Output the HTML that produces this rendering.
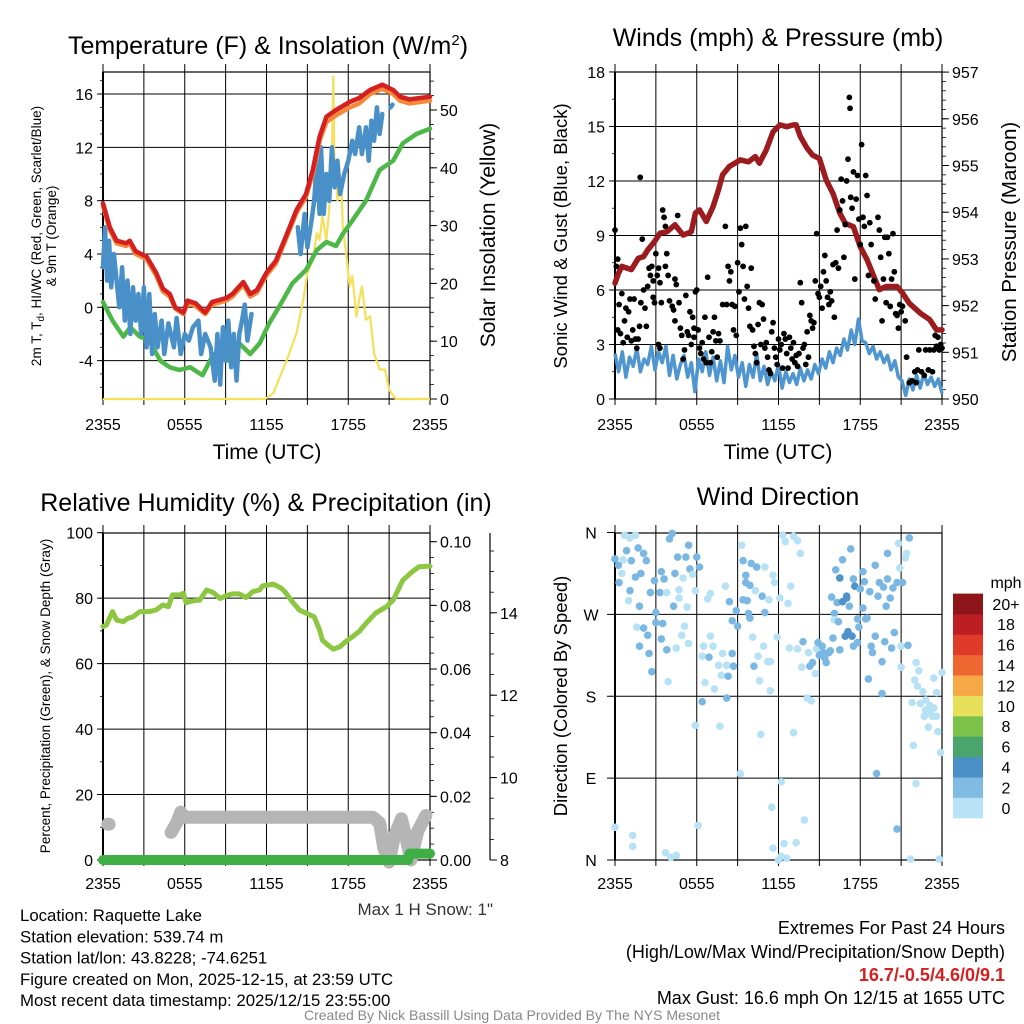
<!DOCTYPE html>
<html><head><meta charset="utf-8"><style>
html,body{margin:0;padding:0;background:#fff;}
svg{display:block;font-family:"Liberation Sans",sans-serif;}
</style></head><body>
<svg id="c" width="1024" height="1024" viewBox="0 0 1024 1024" xmlns="http://www.w3.org/2000/svg">
<g id="layer"></g>
</svg>
<script>
// ---------- DATA ----------
const timeTickLabels = ["2355","0555","1155","1755","2355"];
const tempTicks = [-4,0,4,8,12,16];
const insolTicks = [0,10,20,30,40,50];
const windTicks = [0,3,6,9,12,15,18];
const presTicks = [950,951,952,953,954,955,956,957];
const rhTicks = [0,20,40,60,80,100];
const precipTicks = [0,0.02,0.04,0.06,0.08,0.10];
const snowTicks = [8,10,12,14];
const dirTickLabels = ["N","E","S","W","N"];
const dirTicks = [0,90,180,270,360];
const cbLabels = ["0","2","4","6","8","10","12","14","16","18","20+"];
const cbColors = ["#b8e3f7","#80bbe3","#4a8fc6","#4aa56c","#7cc24a","#e6e05a","#f5a845","#ee6630","#de3b2b","#bd1e24","#8e1519"];

const redT = [0,0.5,1,1.7,1.96,2.4,3.2,3.9,4.4,4.9,5.3,5.9,6.2,6.8,7.5,8,9.05,9.5,10.3,10.8,11.3,12,12.7,13.5,14.2,14.9,15.4,15.9,16.4,17.1,18.1,18.8,19.6,20.5,21.3,21.8,22.5,24];
const redV = [7.8,6.0,5.0,4.8,5.0,4.2,3.8,2.6,1.4,1.0,0,-0.4,0.5,0.3,-0.4,0.4,0.7,1.0,1.9,1.0,1.3,2.6,3.5,5.5,7.3,8.5,10.3,12.8,14.3,14.8,15.4,15.7,16.3,16.7,16.3,15.8,15.6,15.8];
const orangeV = [7.6,5.8,4.8,4.6,4.8,4.0,3.6,2.4,1.2,0.8,-0.1,-0.5,0.3,0.1,-0.5,0.2,0.5,0.8,1.7,0.8,1.1,2.4,3.3,5.3,7.1,8.3,10.0,12.5,13.9,14.4,15.0,15.3,16.0,16.4,16.0,15.5,15.3,15.5];
const greenT = [0,0.7,1.5,2,2.7,3.4,4.2,4.9,5.6,6.4,7.3,8.1,9.1,10,10.8,11.5,12.2,12.9,13.9,14.9,15.7,16.4,17.1,17.6,18.3,19.3,20.3,21.3,22,23,24];
const greenV = [0.4,-1.0,-2.2,-1.5,-2.2,-2.5,-4.0,-4.5,-4.7,-4.5,-5.1,-3.5,-4.0,-2.7,-3.5,-2.7,-1.2,0,1.8,2.8,4.3,4.9,4.6,5.5,6.5,8.0,10.3,11.0,12.3,13.0,13.4];
const blueT = [0,0.15,0.3,0.45,0.6,0.8,1,1.2,1.4,1.6,1.8,2,2.2,2.4,2.6,2.8,3,3.2,3.4,3.6,3.8,4,4.3,4.5,4.8,5.2,5.4,5.7,6,6.3,6.6,7,7.2,7.5,7.9,8.2,8.4,8.6,8.8,9,9.2,9.4,9.6,9.8,10,10.2,10.4,10.6,10.9,null,14.3,14.5,14.8,15,15.3,15.5,15.7,15.9,16,16.2,16.4,16.6,16.8,17,17.2,17.4,17.7,18,18.3,18.5,18.8,19,19.3,19.5,19.7,19.9,20.1,20.3,20.5,null,21.1,21.25];
const blueV = [3,6,2,5,1.5,4,2,0,3,-1,2,-2,1.5,-1,1,-2,1.5,-3,1,-3.5,-0.5,-3,-1,-3.5,-1.2,-3,-0.8,-3.5,-2,-2.5,-1.5,-1,-3.5,-2,-3,-5.5,-2,-5.8,-1.5,-4,-1,-4.5,-2,-5.5,-2,-1,0.2,-2.5,-0.5,null,6,4,7,4.5,6.5,8,11,7,12,7,10,8,12,9,11,8.5,10,11,12.5,11.5,13.5,11.5,13.5,11,14,12.5,15,13,14.5,null,15,15.2];
const insolT = [0,11.9,12.5,13.5,14.2,14.7,15,15.4,15.7,15.9,16.1,16.4,16.6,16.8,16.9,17,17.1,17.2,17.5,17.6,17.9,18.1,18.3,18.6,18.8,19,19.3,19.6,19.9,20.3,20.7,21,21.5,24];
const insolV = [0,0,1,6.8,11.4,17.2,21.8,24,28.7,27.5,31.6,27.5,32.7,41.4,55.8,38.5,41.4,34.4,36.8,29.8,24,19.5,21.3,14.3,17.2,19.5,13.7,14.3,7.9,5.1,5.1,1.6,0,0];

const presT = [0,0.25,0.5,1.2,1.7,2.1,2.4,2.9,3.3,3.8,4.4,5,5.6,5.9,6.2,6.7,7.2,7.6,7.9,8.4,9.2,9.8,10.3,10.6,11.1,11.6,12.1,12.6,13.1,13.3,13.6,14.1,14.5,15,15.5,16,16.5,16.9,17.5,18,18.5,19,19.4,19.9,20.7,21.1,21.6,22.4,23.1,23.6,24];
const presV = [952.48,952.69,952.84,952.77,953.01,953.05,953.19,953.37,953.55,953.58,953.73,953.51,953.58,953.98,954.05,953.80,954.12,954.48,954.80,954.98,955.12,955.08,955.19,955.05,955.33,955.72,955.87,955.83,955.87,955.87,955.62,955.37,955.22,955.15,954.69,954.40,953.98,953.76,953.69,953.26,952.98,952.62,952.34,952.41,952.41,952.27,952.05,951.84,951.70,951.48,951.48];
const windV = [2.5,1.5,2.6,1.2,2.3,1.8,2.8,1.5,2.2,1.9,2.9,1.6,2.6,2.0,2.9,1.3,2.4,1.1,1.9,2.4,1.2,2.0,0.4,2.2,1.5,2.6,1.3,2.3,1.0,2.1,0.9,2.9,1.6,2.4,1.2,2.0,0.7,1.9,1.2,2.5,1.0,1.8,0.8,1.5,1.0,1.9,0.6,1.5,0.9,1.4,0.8,1.7,1.0,1.6,1.1,1.9,1.4,2.2,1.7,2.6,2.0,2.8,2.4,3.3,2.7,3.8,3.0,4.4,3.2,3.1,2.5,2.9,2.2,2.6,2.0,2.4,1.6,2.1,1.2,1.0,0.2,1.1,0.5,1.3,0.6,1.4,0.8,1.2,0.7,1.1,0.3];
const gustT = [0,0.1,0.2,0.3,0.2,0.4,0.5,0.6,0.7,0.8,0.9,1,1.1,1.2,1.3,1.4,1.5,1.6,1.7,1.8,1.9,1.85,2,2.1,2.2,2.3,2.4,2.5,2.6,2.7,2.8,2.8,2.9,3,3.1,3.2,3.3,3.4,3.2,3.3,3.5,3.6,3.7,3.7,3.8,3.9,4,4.2,4.3,4.4,4.4,4.5,4.6,4.7,4.8,4.9,5,5.1,5.2,5.3,5.4,5.5,5.6,5.7,5.8,5.8,5.9,6,6.1,6.2,6.3,6.4,6.5,6.6,6.7,6.8,6.9,7,7.1,7.2,7.3,7.4,7.5,7.6,7.7,7.9,8.1,8.2,8.3,8.4,8.5,8.6,8.7,8.8,8.9,9,9.1,9.2,9.3,9.4,9.5,9.6,9.7,9.8,9.9,10,10.1,10.2,10.3,10.4,10.5,10.6,10.7,10.8,10.9,11,11.1,11.2,11.3,11.4,11.5,11.6,11.7,11.8,11.9,12,12.1,12.2,12.3,12.4,12.5,12.6,12.7,12.8,12.9,13,13.1,13.2,13.3,13.4,13.5,13.6,13.7,13.8,13.9,14,14.1,14.2,14.3,14.4,14.5,14.6,14.7,14.8,14.9,15,15.1,15.2,15.3,15.4,15.5,15.6,15.7,15.8,15.9,16,16.1,16.2,16.3,16.4,16.5,16.6,16.7,16.8,16.9,17,17.1,17.2,17.25,17.3,17.4,17.5,17.6,17.7,17.8,17.9,18,18.1,18.2,18.3,18.4,18.5,18.6,18.7,18.8,19,19.1,19.3,19.4,19.5,19.6,19.7,19.8,19.9,20,20.1,20.2,20.3,20.4,20.5,20.6,20.7,20.8,20.9,21,21.1,21.3,21.4,21.6,21.8,22,22.1,22.2,22.3,22.5,22.7,22.8,23,23.1,23.3,23.4,23.5,23.6,23.7,23.8,23.9,24];
const gustV = [9.3,7.3,7.7,5.2,3.8,3.6,5.8,3.1,4.3,5.0,3.4,4.8,5.5,3.2,3.8,5.5,3.3,2.8,3.3,4.0,5.3,12.2,8.8,6.0,5.0,4.0,6.2,7.2,6.8,7.3,6.5,5.6,5.3,8.0,6.8,7.2,6.4,5.3,3.0,2.8,10.4,10.0,9.5,7.3,8.0,6.8,5.4,5.1,4.9,6.6,4.3,6.3,10.1,5.3,3.9,3.5,2.2,2.7,5.7,3.7,3.5,4.8,3.0,4.5,3.4,3.9,5.9,6.0,3.8,2.8,2.5,3.1,2.2,4.5,2.0,6.7,3.4,2.0,2.6,3.7,4.5,3.2,2.3,3.6,3.2,5.2,9.5,5.2,7.3,6.5,7.0,5.2,3.8,5.1,3.5,7.5,5.9,9.4,8.5,7.3,5.5,9.5,6.2,5.0,4.0,7.2,3.8,2.9,2.5,2.0,4.1,5.3,3.0,5.2,4.4,2.8,3.1,2.3,1.6,1.4,3.7,4.2,2.8,2.3,1.9,3.3,2.7,3.0,1.7,3.6,3.3,2.5,1.7,3.4,2.8,2.2,3.1,2.0,2.4,1.8,2.5,6.4,5.3,2.8,3.0,1.9,3.7,2.3,4.6,4.3,3.9,4.2,6.5,9.1,5.8,5.6,6.2,5.0,7.0,7.9,6.5,5.6,5.2,5.9,5.4,7.4,4.5,7.5,9.3,7.2,10.4,12.1,10.9,7.8,9.6,12.0,13.2,16.6,16.0,11.1,10.5,12.5,6.6,11.0,12.3,9.9,8.5,14.0,10.0,9.5,12.3,11.2,6.8,9.7,8.5,6.5,5.5,10.0,9.3,7.8,4.3,6.6,8.9,5.3,8.9,8.0,5.1,6.6,9.1,7.0,4.7,4.6,3.9,5.2,4.8,5.1,4.3,2.3,0.9,1.0,1.5,0.9,1.6,2.7,1.5,1.3,2.7,1.6,2.7,1.5,2.7,3.5,2.9,3.4,2.7,3.0,2.8];

const rhT = [0,0.25,0.7,1,1.5,1.8,2.2,2.7,3.4,3.9,4.4,4.8,5.1,5.6,5.9,6.1,6.6,7.1,7.6,8.1,8.6,9,9.5,10,10.5,11,11.5,11.7,12.5,13.1,13.4,13.9,14.4,14.9,15.5,15.9,16.1,16.5,16.9,17.4,17.8,18.3,18.8,19.3,20,20.8,21.3,22,22.7,23.2,24];
const rhV = [71.3,71.8,75.9,73.3,72.8,73.8,74.3,75.9,75.9,76.4,77.9,77.4,81.0,81.0,81.5,78.6,79.2,79.4,82.5,81.7,79.9,80.7,81.3,81.3,80.2,82.0,82.5,83.7,84.3,83.0,81.7,78.9,76.4,75.4,74.3,70.3,67.2,65.7,64.4,65.2,66.7,68.2,69.8,72.3,75.4,77.4,79.4,85.5,88.1,89.6,89.8];
const precipT = [0,22.4,22.5,24];
const precipV = [0,0,0.002,0.002];
const snowT1 = [0.35,0.45];
const snowV1 = [8.87,8.87];
const snowT2 = [5.0,5.4,5.7,6.0,8,12,16,19.8,20.3,20.6,21.0,21.4,21.9,22.2,22.6,23.1,23.7];
const snowV2 = [8.67,8.9,9.16,9.04,9.04,9.04,9.04,9.04,8.9,8.3,7.95,8.6,9.0,8.6,8.0,8.7,9.08];

const dirT = [0,0.25,0.3,0.5,0.6,0.7,0.85,1.1,1.2,1.0,1.1,1.5,1.5,1.7,1.9,1.8,2.1,2.3,1.6,2.1,2.4,2.5,1.8,2.7,2.6,2.9,3.0,3.0,3.3,3.4,3.6,3.4,3.5,3.8,3.9,3.8,4.0,4.2,4.3,4.4,4.6,4.7,4.7,5.0,4.9,4.5,5.1,5.2,5.3,5.4,5.5,5.4,5.7,5.9,6.0,6.2,5.9,6.1,6.4,6.4,6.5,6.6,6.8,7.0,6.9,7.0,7.2,7.3,7.6,7.7,7.8,7.9,8.1,8.2,8.3,8.4,8.6,8.6,8.7,8.2,8.9,9.0,9.2,9.3,9.4,9.4,9.6,9.6,9.7,9.8,9.9,9.9,10.0,10.1,10.2,10.3,10.4,10.5,10.6,10.7,10.8,10.9,11.0,11.0,11.2,11.3,11.4,11.4,11.5,11.6,11.6,11.7,11.9,12.0,12.1,12.2,12.2,12.3,12.4,12.5,12.6,12.7,12.8,12.9,13.1,13.1,13.3,13.4,13.4,13.6,13.7,13.8,13.9,14.1,14.2,14.3,14.4,14.5,14.7,14.8,14.9,15.0,15.2,15.3,15.4,15.5,15.7,15.8,15.9,16.0,16.1,16.1,16.2,16.3,16.4,16.5,16.5,16.7,16.7,16.9,17.0,17.0,17.1,17.2,17.3,17.4,17.5,17.5,17.6,17.8,17.8,17.9,18.0,18.2,18.2,18.3,18.4,18.5,18.6,18.7,18.8,18.9,19.1,19.1,19.2,19.3,19.4,19.6,19.6,19.7,19.8,19.9,20.0,20.0,20.2,20.3,20.4,20.5,20.7,20.7,20.8,20.9,21.0,21.0,21.1,21.3,21.4,21.5,21.6,21.7,21.8,21.9,22.0,22.1,22.1,22.2,22.3,22.4,22.6,22.7,22.8,23.0,23.1,23.1,23.3,23.4,23.4,23.6,23.6,23.7,23.9,24.0,23.8,22.8,0,1.3,1.3,3.7,4.1,4.5];
const dirV = [331,324,305,315,330,357,340,354,329,285,296,311,357,343,315,279,337,329,256,255,247,227,235,207,294,307,272,261,294,317,309,243,260,231,196,294,353,359,279,315,333,297,288,310,247,233,257,333,278,346,320,238,314,296,333,322,148,38,174,224,235,195,287,293,223,246,235,188,214,147,203,227,301,214,202,284,263,227,213,178,274,257,95,346,329,286,313,305,285,271,302,266,326,245,213,296,322,224,197,138,290,235,322,272,218,286,186,218,58,13,313,305,245,0,288,86,4,357,18,350,2,282,233,301,356,140,19,351,232,337,212,240,44,178,228,213,175,217,205,232,239,225,235,228,222,217,228,230,289,244,271,264,319,283,262,231,310,330,284,246,288,290,251,279,342,246,235,309,301,239,265,256,298,317,277,306,265,266,199,295,235,228,246,324,95,290,305,218,183,300,240,279,337,309,288,233,299,250,305,34,348,321,212,235,305,332,337,236,354,1,173,126,198,84,217,191,208,172,185,158,165,146,170,162,158,200,167,184,158,141,118,206,1,176,36,27,15,8,3,5];
const dirS = [3,3,3,1,1,1,3,1,3,1,3,3,1,3,3,3,3,3,1,3,3,3,3,3,3,3,3,3,3,3,3,3,3,3,1,1,3,3,3,3,3,1,1,1,1,1,1,3,1,3,3,1,1,1,3,3,1,1,3,1,1,1,1,1,3,1,1,1,1,1,1,1,1,1,3,3,3,3,3,3,3,3,1,1,3,3,3,3,3,3,3,3,3,1,3,1,3,1,1,1,3,1,1,3,1,1,1,1,1,1,1,1,1,1,1,1,1,1,1,1,1,1,1,1,1,1,1,1,1,1,1,3,1,1,1,3,1,3,1,1,3,3,3,3,3,3,3,3,3,3,3,1,3,3,3,3,5,3,5,5,5,5,5,3,3,5,3,3,5,3,3,3,3,3,3,3,3,3,3,3,3,3,3,3,3,3,3,3,3,3,3,3,3,3,3,3,3,3,3,3,1,1,1,1,3,1,1,3,3,1,1,1,1,1,1,1,1,1,1,1,1,1,1,1,1,1,1,1,1,1,1,1,1,1,1,1,1,1,1,1,3,1,3,3,1];

// ---------- HELPERS ----------
const NS = "http://www.w3.org/2000/svg";
const root = document.getElementById("layer");
const TICK = 16;
function mk(tag, attrs, parent) {
  const e = document.createElementNS(NS, tag);
  for (const k in attrs) e.setAttribute(k, attrs[k]);
  (parent || root).appendChild(e);
  return e;
}
function txt(s, x, y, size, anchor, parent, extra) {
  const e = mk("text", Object.assign({x: x, y: y, "font-size": size, "text-anchor": anchor || "middle", fill: "#000"}, extra || {}), parent);
  e.textContent = s;
  return e;
}
function pathFrom(xs, ys, sx, sy) {
  let d = "", pen = false;
  for (let i = 0; i < xs.length; i++) {
    if (xs[i] === null || ys[i] === null) { pen = false; continue; }
    d += (pen ? "L" : "M") + sx(xs[i]).toFixed(1) + "," + sy(ys[i]).toFixed(1);
    pen = true;
  }
  return d;
}

const X1 = t => 103 + t * 13.625;
const X2 = t => 615 + t * 13.625;
const Y1 = v => 307.3 - v * 13.33;
const Yi = w => 399 - w * 5.78;
const Y2 = v => 399 - v * 18.17;
const Yp = p => 399 - (p - 950) * 46.7;
const Y3 = v => 860 - v * 3.273;
const Ypr = p => 860 - p * 3183;
const Ysn = s => 860 - (s - 8) * 41.2;
const Yd = d => 860 - d * 0.9097;

function frame(g, x0, x1, y0, y1, hGrid, xfn) {
  for (let h = 0; h <= 24; h += 3) {
    const x = xfn(h);
    mk("line", {x1: x, x2: x, y1: y0 - 8, y2: y1 + 6, stroke: "#000", "stroke-width": 1}, g);
  }
  hGrid.forEach(y => mk("line", {x1: x0, x2: x1, y1: y, y2: y, stroke: "#000", "stroke-width": 1}, g));
  mk("rect", {x: x0, y: y0, width: x1 - x0, height: y1 - y0, fill: "none", stroke: "#000", "stroke-width": 1.2}, g);
  mk("line", {x1: x0, x2: x0, y1: y0, y2: y1, stroke: "#000", "stroke-width": 2}, g);
}
function xLabels(g, xfn, y) {
  timeTickLabels.forEach((s, i) => txt(s, xfn(i * 6), y, TICK, "middle", g));
}
function leftTicks(g, x, ticks, yfn, fmt, minorStep, range) {
  ticks.forEach(v => {
    mk("line", {x1: x - 6, x2: x, y1: yfn(v), y2: yfn(v), stroke: "#000"}, g);
    txt(fmt(v), x - 10, yfn(v) + 6, TICK, "end", g);
  });
  for (let v = range[0]; v <= range[1] + 1e-9; v += minorStep)
    mk("line", {x1: x - 3, x2: x, y1: yfn(v), y2: yfn(v), stroke: "#000", "stroke-width": 0.8}, g);
}
function rightTicks(g, x, ticks, yfn, fmt, minorStep, range) {
  ticks.forEach(v => {
    mk("line", {x1: x, x2: x + 7, y1: yfn(v), y2: yfn(v), stroke: "#000"}, g);
    txt(fmt(v), x + 10, yfn(v) + 6, TICK, "start", g);
  });
  for (let v = range[0]; v <= range[1] + 1e-9; v += minorStep)
    mk("line", {x1: x, x2: x + 4, y1: yfn(v), y2: yfn(v), stroke: "#000", "stroke-width": 0.8}, g);
}

// ---------- PANEL 1 ----------
const p1 = mk("g", {});


frame(p1, 103, 430, 72, 399, tempTicks.map(Y1), X1);
leftTicks(p1, 103, tempTicks, Y1, v => String(v), 1, [-6, 17]);
rightTicks(p1, 430, insolTicks, Yi, v => String(v), 2.5, [0, 55]);
xLabels(p1, X1, 430);
const cl1 = mk("clipPath", {id: "cp1"}, p1); mk("rect", {x: 100, y: 72, width: 334, height: 330}, cl1);
const s1 = mk("g", {"clip-path": "url(#cp1)"}, p1);
const insolLine = mk("path", {d: pathFrom(insolT, insolV, X1, Yi), fill: "none", stroke: "#f6e05a", "stroke-width": 2.2, "stroke-linejoin": "round"}, s1);


const greenLine = mk("path", {d: pathFrom(greenT, greenV, X1, Y1), fill: "none", stroke: "#4db848", "stroke-width": 4.5, "stroke-linejoin": "round", "stroke-linecap": "round"}, s1);


const blueLine = mk("path", {d: pathFrom(blueT, blueV, X1, Y1), fill: "none", stroke: "#4a90c8", "stroke-width": 4.5, "stroke-linejoin": "round", "stroke-linecap": "round"}, s1);


const orangeLine = mk("path", {d: pathFrom(redT, orangeV, X1, Y1), fill: "none", stroke: "#f4893a", "stroke-width": 4.5, "stroke-linejoin": "round", "stroke-linecap": "round"}, s1);


const redLine = mk("path", {d: pathFrom(redT, redV, X1, Y1), fill: "none", stroke: "#d42020", "stroke-width": 4.5, "stroke-linejoin": "round", "stroke-linecap": "round"}, s1);


const t1 = mk("text", {x: 268, y: 54, "font-size": 25, "text-anchor": "middle"}, p1);
t1.innerHTML = 'Temperature (F) &amp; Insolation (W/m<tspan dy="-9" font-size="15">2</tspan><tspan dy="9">)</tspan>';


const yl1 = mk("text", {x: 0, y: 0, "font-size": 13.5, "text-anchor": "middle", transform: "translate(41,236) rotate(-90)"}, p1);
yl1.innerHTML = '2m T, T<tspan dy="3" font-size="10">d</tspan><tspan dy="-3">, HI/WC (Red, Green, Scarlet/Blue)</tspan>';


const yl1b = txt("& 9m T (Orange)", 0, 0, 13.5, "middle", p1, {transform: "translate(56,236) rotate(-90)"});


const yr1 = txt("Solar Insolation (Yellow)", 0, 0, 21, "middle", p1, {transform: "translate(495,235) rotate(-90)"});


const xl1 = txt("Time (UTC)", 267, 459, 21, "middle", p1);



// ---------- PANEL 2 ----------
const p2 = mk("g", {});


frame(p2, 615, 942, 72, 399, windTicks.slice(1, 6).map(Y2), X2);
leftTicks(p2, 615, windTicks, Y2, v => String(v), 1.5, [0, 18]);
rightTicks(p2, 942, presTicks, Yp, v => String(v), 0.2, [950, 957]);
xLabels(p2, X2, 430);
const cl2 = mk("clipPath", {id: "cp2"}, p2); mk("rect", {x: 612, y: 68, width: 335, height: 334}, cl2);
const s2 = mk("g", {"clip-path": "url(#cp2)"}, p2);
const windT = windV.map((v, i) => i * 24 / (windV.length - 1));
const windLine = mk("path", {d: pathFrom(windT, windV, X2, Y2), fill: "none", stroke: "#4f95cf", "stroke-width": 3.5, "stroke-linejoin": "round"}, s2);


const presLine = mk("path", {d: pathFrom(presT, presV, X2, Yp), fill: "none", stroke: "#9b1b1e", "stroke-width": 5.5, "stroke-linejoin": "round", "stroke-linecap": "round"}, s2);


gustT.forEach((t, i) => {
  const c = mk("circle", {cx: X2(t), cy: Y2(gustV[i]), r: 2.9, fill: "#000"}, s2);
  
  
});
const t2 = txt("Winds (mph) & Pressure (mb)", 778, 46, 25, "middle", p2);


const yl2 = txt("Sonic Wind & Gust (Blue, Black)", 0, 0, 18.5, "middle", p2, {transform: "translate(567,236) rotate(-90)"});


const yr2 = txt("Station Pressure (Maroon)", 0, 0, 20.5, "middle", p2, {transform: "translate(1016,242) rotate(-90)"});


const xl2 = txt("Time (UTC)", 778, 459, 21, "middle", p2);



// ---------- PANEL 3 ----------
const p3 = mk("g", {});


frame(p3, 103, 430, 533, 860, rhTicks.slice(1, 5).map(Y3), X1);
leftTicks(p3, 103, rhTicks, Y3, v => String(v), 10, [0, 100]);
rightTicks(p3, 430, precipTicks, Ypr, v => v.toFixed(2), 0.005, [0, 0.1]);
mk("line", {x1: 490, x2: 490, y1: 533, y2: 860, stroke: "#000", "stroke-width": 1.2}, p3);
rightTicks(p3, 490, snowTicks, Ysn, v => String(v), 0.5, [8, 15.5]);
xLabels(p3, X1, 889);
const cl3 = mk("clipPath", {id: "cp3"}, p3); mk("rect", {x: 95, y: 530, width: 345, height: 340}, cl3);
const s3 = mk("g", {"clip-path": "url(#cp3)"}, p3);
const snow1 = mk("path", {d: pathFrom(snowT1, snowV1, X1, Ysn), fill: "none", stroke: "#b5b5b5", "stroke-width": 13, "stroke-linecap": "round"}, s3);


const snow2 = mk("path", {d: pathFrom(snowT2, snowV2, X1, Ysn), fill: "none", stroke: "#b5b5b5", "stroke-width": 13, "stroke-linecap": "round", "stroke-linejoin": "round"}, s3);


const prLine = mk("path", {d: pathFrom(precipT, precipV, X1, Ypr), fill: "none", stroke: "#3fae45", "stroke-width": 10, "stroke-linecap": "round", "stroke-linejoin": "round"}, s3);


const rhLine = mk("path", {d: pathFrom(rhT, rhV, X1, Y3), fill: "none", stroke: "#8dc641", "stroke-width": 5, "stroke-linecap": "round", "stroke-linejoin": "round"}, s3);


const t3 = txt("Relative Humidity (%) & Precipitation (in)", 266, 511, 25, "middle", p3);


const yl3 = txt("Percent, Precipitation (Green), & Snow Depth (Gray)", 0, 0, 13.5, "middle", p3, {transform: "translate(50,696) rotate(-90)"});


const ms = txt("Max 1 H Snow: 1\"", 493, 915, 17, "end", p3, {fill: "#333"});



// ---------- PANEL 4 ----------
const p4 = mk("g", {});


frame(p4, 615, 942, 533, 860, [Yd(90), Yd(180), Yd(270)], X2);
dirTicks.forEach((d, i) => {
  mk("line", {x1: 607, x2: 615, y1: Yd(d), y2: Yd(d), stroke: "#000"}, p4);
  txt(dirTickLabels[i], 591, Yd(d) + 6, TICK, "middle", p4);
});
xLabels(p4, X2, 889);
const dirCol = {1: "#b7e2f6", 3: "#7ab8e3", 5: "#4f92c9"};
dirT.forEach((t, i) => {
  const c = mk("circle", {cx: X2(t), cy: Yd(dirV[i]), r: 3.8, fill: dirCol[dirS[i]]}, p4);
  
  
});
const t4 = txt("Wind Direction", 778, 505, 25, "middle", p4);


const yl4 = txt("Direction (Colored By Speed)", 0, 0, 18.5, "middle", p4, {transform: "translate(567,696) rotate(-90)"});


const cb = mk("g", {}, p4);


cbColors.forEach((c, i) => {
  const h = 20.4, y = 818 - (i + 1) * h;
  mk("rect", {x: 953, y: y, width: 30, height: h + 0.3, fill: c}, cb);
  txt(cbLabels[i], 1006, y + h / 2 + 6, TICK, "middle", cb);
});
txt("mph", 1006, 588, TICK, "middle", cb);

// ---------- FOOTER ----------
const info = ["Location: Raquette Lake", "Station elevation: 539.74 m", "Station lat/lon: 43.8228; -74.6251", "Figure created on Mon, 2025-12-15, at 23:59 UTC", "Most recent data timestamp: 2025/12/15 23:55:00"];
info.forEach((s, i) => {
  const e = txt(s, 20, 921 + i * 21.3, 16.8, "start");
  
  
});
const ex = [["Extremes For Past 24 Hours", 934, "#000", "normal"], ["(High/Low/Max Wind/Precipitation/Snow Depth)", 958, "#000", "normal"], ["16.7/-0.5/4.6/0/9.1", 981, "#d42020", "bold"], ["Max Gust: 16.6 mph On 12/15 at 1655 UTC", 1004, "#000", "normal"]];
ex.forEach(r => {
  const e = txt(r[0], 1005, r[1], 18, "end", null, {fill: r[2], "font-weight": r[3]});
  
  
});
const cr = txt("Created By Nick Bassill Using Data Provided By The NYS Mesonet", 512, 1020, 14, "middle", null, {fill: "#888"});


</script>
</body></html>
